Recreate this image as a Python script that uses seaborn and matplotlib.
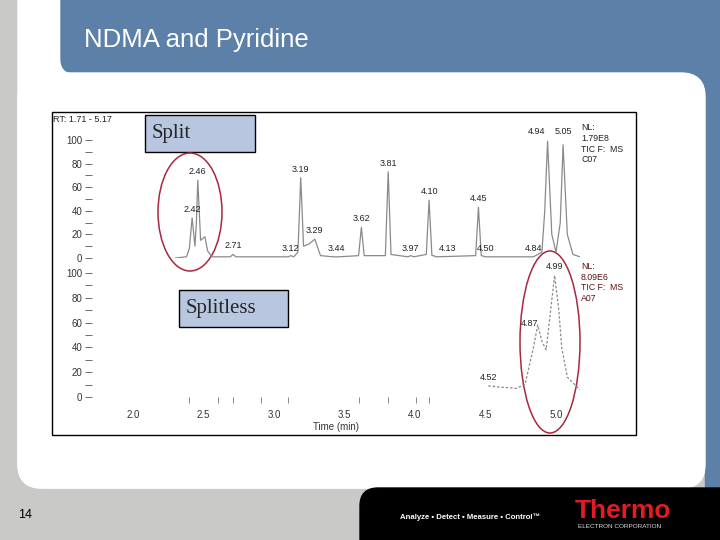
import matplotlib
matplotlib.use("Agg")
import matplotlib.pyplot as plt
import seaborn as sns
from matplotlib.patches import FancyBboxPatch, Rectangle, Ellipse
from matplotlib.ticker import MultipleLocator, FixedLocator

# Split injection trace (C07): retention time (min) and relative abundance (%)
split_rt = [2.30, 2.38, 2.40, 2.42, 2.44, 2.45, 2.46, 2.48, 2.51, 2.53, 2.56,
            2.69, 2.71, 2.73, 3.10, 3.12, 3.14, 3.17, 3.19, 3.21, 3.25, 3.29, 3.33,
            3.42, 3.44, 3.46, 3.60, 3.62, 3.64, 3.79, 3.81, 3.83, 3.95, 3.97, 3.99,
            4.08, 4.10, 4.12, 4.13, 4.15, 4.43, 4.45, 4.47, 4.50, 4.84,
            4.90, 4.92, 4.94, 4.97, 5.00, 5.03, 5.05, 5.08, 5.12, 5.17]
split_int = [0, 1, 8, 34, 10, 30, 66, 15, 18, 6, 1,
             1, 3, 1, 1, 2, 1, 5, 68, 10, 12, 16, 2,
             1, 1, 1, 2, 26, 2, 2, 73, 3, 1, 2, 1,
             3, 49, 2, 2, 1, 2, 43, 2, 1, 1,
             5, 40, 99, 20, 5, 30, 96, 20, 3, 1]

# Splitless injection trace (A07)
splitless_rt = [4.52, 4.60, 4.72, 4.78, 4.84, 4.87, 4.90, 4.93, 4.97, 4.99,
                5.02, 5.04, 5.08, 5.15, 5.17]
splitless_int = [9, 8, 7, 10, 40, 58, 45, 38, 78, 98, 70, 40, 16, 8, 6]

# labelled peaks
split_peak_rt = [2.42, 2.46, 2.71, 3.12, 3.19, 3.29, 3.44, 3.62, 3.81, 3.97,
                 4.10, 4.13, 4.45, 4.50, 4.84, 4.94, 5.05]
split_peak_int = [34, 66, 3, 1, 68, 16, 1, 26, 73, 1, 49, 1, 43, 1, 1, 100, 100]
splitless_peak_rt = [4.52, 4.87, 4.99]
splitless_peak_int = [9, 58, 98]

x_ticks = [2.0, 2.5, 3.0, 3.5, 4.0, 4.5, 5.0]
scan_marks = [2.40, 2.50, 2.60, 2.71, 2.91, 3.10, 3.60, 3.81, 4.01, 4.10]

sns.set_theme(style="white")
plt.rcParams["font.family"] = ["Liberation Sans", "DejaVu Sans"]

fig = plt.figure(figsize=(7.2, 5.4), dpi=100)

# slide background in pixel coordinates
bg = fig.add_axes([0, 0, 1, 1])
bg.set_xlim(0, 720)
bg.set_ylim(540, 0)
bg.axis("off")

gray = "#C9CAC8"
blue = "#5D80A8"
bg.add_patch(Rectangle((0, 0), 720, 540, color=gray, zorder=0))
bg.add_patch(FancyBboxPatch((18, -60), 687, 548, boxstyle="round,pad=0,rounding_size=24",
                            color="white", zorder=1))
bg.add_patch(Rectangle((705, 0), 15, 488, color=blue, zorder=1))
bg.add_patch(Rectangle((680, 60), 25, 40, color=blue, zorder=1))
bg.add_patch(FancyBboxPatch((61, -40), 720, 113, boxstyle="round,pad=0,rounding_size=14",
                            color=blue, zorder=2))
bg.add_patch(FancyBboxPatch((18, 73), 687, 415, boxstyle="round,pad=0,rounding_size=24",
                            color="white", zorder=2))
bg.add_patch(FancyBboxPatch((360, 488), 420, 100, boxstyle="round,pad=0,rounding_size=18",
                            color="black", zorder=2))

bg.text(84, 40, "NDMA and Pyridine", color="white", fontsize=18.5, va="center", zorder=3)
bg.text(18, 515, "14", color="black", fontsize=9, va="center", zorder=3)
bg.text(400, 517, "Analyze \u2022 Detect \u2022 Measure \u2022 Control\u2122", color="white",
        fontsize=5.6, fontweight="bold", va="center", zorder=3)
bg.text(575, 511, "Thermo", color="#E31B23", fontsize=19, fontweight="bold",
        va="center", zorder=3)
bg.text(578, 527, "ELECTRON CORPORATION", color="#DDDDDD", fontsize=4.6,
        va="center", zorder=3)

# chart frame
bg.add_patch(Rectangle((52, 112), 584, 323, facecolor="white", edgecolor="black",
                       lw=1, zorder=3))
bg.text(53, 119, "RT: 1.71 - 5.17", fontsize=6.5, color="#222222", va="center", zorder=4)
bg.text(581, 123, "NL:\n1.79E8\nTIC F:  MS\nC07", fontsize=6.3, color="#222222",
        va="top", linespacing=1.25, zorder=4)
bg.text(581, 262, "NL:\n8.09E6\nTIC F:  MS\nA07", fontsize=6.3, color="#5A1212",
        va="top", linespacing=1.25, zorder=4)

# method labels
for x0, y0, w, h, txt in [(145, 115, 110, 37, "Split"), (179, 290, 109, 37, "Splitless")]:
    bg.add_patch(Rectangle((x0, y0), w, h, facecolor="#B8C6E0", edgecolor="black",
                           lw=1, zorder=4))
    bg.text(x0 + 7, y0 + h / 2, txt, family="Liberation Serif", fontsize=15,
            va="center", zorder=5)

ring = "#A8283F"
bg.add_patch(Ellipse((190, 212), 64, 118, fill=False, edgecolor=ring, lw=1.1, zorder=6))
bg.add_patch(Ellipse((550, 342), 60, 182, fill=False, edgecolor=ring, lw=1.1, zorder=6))

# chromatogram panels
left, width = 92 / 720, 488 / 720
ax_top = fig.add_axes([left, 1 - 258 / 540, width, 118 / 540])
ax_bot = fig.add_axes([left, 1 - 397 / 540, width, 124 / 540])

sns.lineplot(x=split_rt, y=split_int, ax=ax_top, color="#8A8A8A", lw=0.9,
             estimator=None, sort=False)
sns.lineplot(x=splitless_rt, y=splitless_int, ax=ax_bot, color="#8A8A8A", lw=0.9,
             linestyle=(0, (2, 1.5)), estimator=None, sort=False)

nudge = {4.13: (10, 0), 4.94: (-8, 0), 4.87: (-6, -5)}
for ax, rts, ints in [(ax_top, split_peak_rt, split_peak_int),
                      (ax_bot, splitless_peak_rt, splitless_peak_int)]:
    for t, h in zip(rts, ints):
        dx, dy = nudge.get(t, (0, 0))
        ax.annotate(f"{t:.2f}", (t, h), xytext=(dx, 3 + dy), textcoords="offset points",
                    ha="center", va="bottom", fontsize=6.5, color="#222222",
                    annotation_clip=False)

for ax in (ax_top, ax_bot):
    ax.set_facecolor("none")
    ax.set_xlim(1.71, 5.17)
    ax.set_ylim(0, 100)
    for s in ax.spines.values():
        s.set_visible(False)
    ax.yaxis.set_major_locator(MultipleLocator(20))
    ax.yaxis.set_minor_locator(MultipleLocator(10))
    ax.tick_params(axis="y", which="both", left=True, direction="out", length=5,
                   width=0.6, color="#555555", labelsize=7, labelcolor="#333333", pad=2)
    ax.set_xlabel("")
    ax.set_ylabel("")

ax_top.set_xticks([])
ax_bot.set_xticks(x_ticks)
ax_bot.set_xticklabels([f"{t:.1f}" for t in x_ticks])
ax_bot.xaxis.set_minor_locator(FixedLocator(scan_marks))
ax_bot.tick_params(axis="x", which="major", bottom=True, length=0, labelsize=7,
                   labelcolor="#333333", pad=9)
ax_bot.tick_params(axis="x", which="minor", bottom=True, direction="out", length=4,
                   width=0.6, color="#777777")
ax_bot.set_xlabel("Time (min)", fontsize=7, color="#333333", labelpad=2)

fig.savefig("out.png", dpi=100)
